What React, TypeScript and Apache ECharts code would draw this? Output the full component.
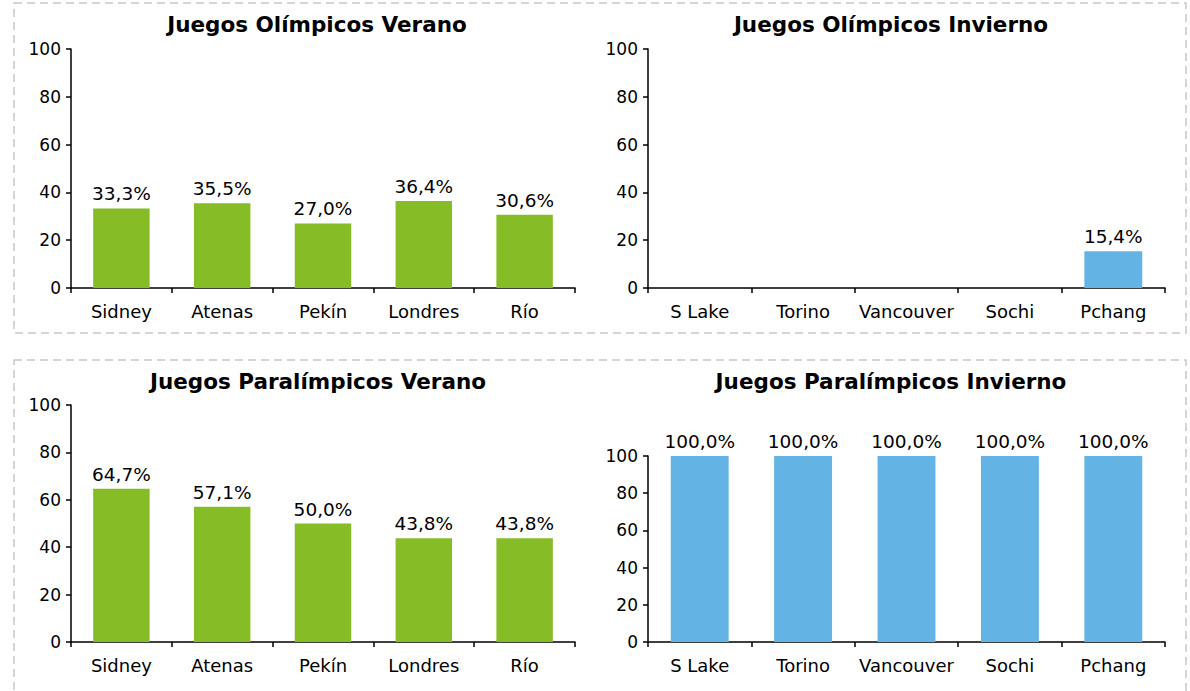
import React, { useEffect, useRef } from "react";
import * as echarts from "echarts";

const summerCities = ["Sidney", "Atenas", "Pekín", "Londres", "Río"];
const winterCities = ["S Lake", "Torino", "Vancouver", "Sochi", "Pchang"];
const olympicSummer = [33.3, 35.5, 27.0, 36.4, 30.6];
const olympicWinter = [0, 0, 0, 0, 15.4];
const paraSummer = [64.7, 57.1, 50.0, 43.8, 43.8];
const paraWinter = [100, 100, 100, 100, 100];
const titles = [
  "Juegos Olímpicos Verano",
  "Juegos Olímpicos Invierno",
  "Juegos Paralímpicos Verano",
  "Juegos Paralímpicos Invierno",
];

const GREEN = "#86BC25";
const BLUE = "#63B4E4";
const FONT = "DejaVu Sans";

export default function App() {
  const ref = useRef<HTMLDivElement>(null);
  useEffect(() => {
    if (!ref.current) return;
    const chart = echarts.init(ref.current, undefined, { renderer: "svg" });
    const grids = [
      { left: 71, top: 49, width: 504, height: 239 },
      { left: 648, top: 49, width: 517, height: 239 },
      { left: 71, top: 405, width: 504, height: 237 },
      { left: 648, top: 456, width: 517, height: 186 },
    ];
    const cats = [summerCities, winterCities, summerCities, winterCities];
    const data = [olympicSummer, olympicWinter, paraSummer, paraWinter];
    const colors = [GREEN, BLUE, GREEN, BLUE];
    const titlePos = [
      [317, 24],
      [891, 24],
      [318, 381],
      [891, 381],
    ];
    const axisLine = { show: true, lineStyle: { color: "#000", width: 1.5 } };
    chart.setOption({
      animation: false,
      grid: grids,
      xAxis: grids.map((_, i) => ({
        type: "category",
        gridIndex: i,
        data: cats[i],
        axisLine,
        axisTick: { show: true, length: 5, lineStyle: { color: "#000", width: 1.5 } },
        axisLabel: { color: "#000", fontSize: 18, fontFamily: FONT, margin: 14, interval: 0 },
        splitLine: { show: false },
      })),
      yAxis: grids.map((_, i) => ({
        type: "value",
        gridIndex: i,
        min: 0,
        max: 100,
        interval: 20,
        axisLine,
        axisTick: { show: true, length: 5, lineStyle: { color: "#000", width: 1.5 } },
        axisLabel: { color: "#000", fontSize: 17, fontFamily: FONT, margin: 10 },
        splitLine: { show: false },
      })),
      series: data.map((d, i) => ({
        type: "bar",
        xAxisIndex: i,
        yAxisIndex: i,
        data: d,
        barCategoryGap: "44%",
        itemStyle: { color: colors[i] },
        label: {
          show: true,
          position: "top",
          distance: 5,
          color: "#000",
          fontSize: 18.5,
          fontFamily: FONT,
          formatter: (p: any) =>
            p.value === 0 ? "" : p.value.toFixed(1).replace(".", ",") + "%",
        },
      })),
      graphic: [
        {
          type: "rect",
          shape: { x: 14, y: 3, width: 1172, height: 330 },
          style: { fill: "none", stroke: "#C8C8C8", lineWidth: 1.5, lineDash: [8, 5] },
          silent: true,
        },
        {
          type: "rect",
          shape: { x: 14, y: 360, width: 1172, height: 345 },
          style: { fill: "none", stroke: "#C8C8C8", lineWidth: 1.5, lineDash: [8, 5] },
          silent: true,
        },
        ...titles.map((t, i) => ({
          type: "text",
          x: titlePos[i][0],
          y: titlePos[i][1],
          style: {
            text: t,
            fontSize: 21.5,
            fontWeight: "bold",
            fontFamily: FONT,
            fill: "#000",
            align: "center",
            verticalAlign: "middle",
          },
        })),
      ],
    });
    return () => chart.dispose();
  }, []);
  return (
    <div
      ref={ref}
      style={{ position: "fixed", left: 0, top: 0, width: 1190, height: 691, background: "#fff" }}
    />
  );
}
